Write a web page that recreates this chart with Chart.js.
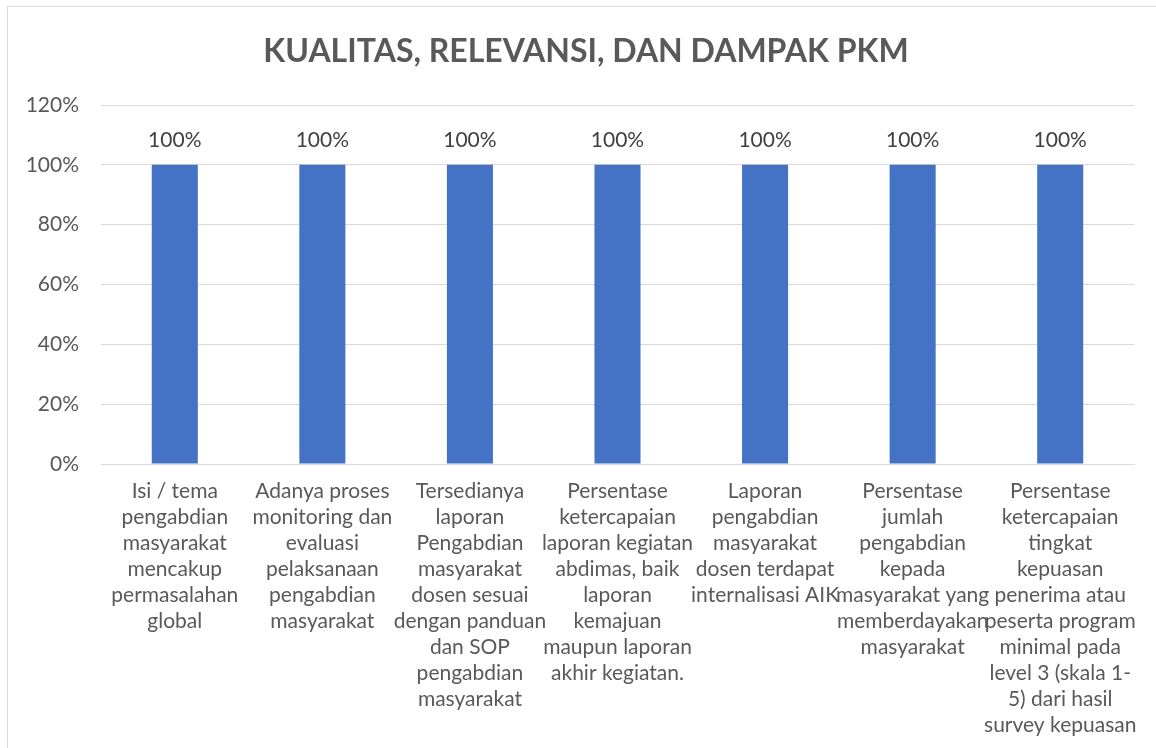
<!DOCTYPE html>
<html>
<head>
<meta charset="utf-8">
<script src="https://cdn.jsdelivr.net/npm/chart.js@4.4.1/dist/chart.umd.min.js"></script>
<style>
    html, body { margin: 0; padding: 0; background: #fff; overflow: hidden; }
    .wrap { position: relative; width: 1156px; height: 748px; }
    .frame {
        position: absolute; left: 7px; top: 6px; width: 1200px; height: 800px;
        border: 1px solid #d9d9d9; pointer-events: none;
    }
</style>
</head>
<body>
<div class="wrap">
    <canvas id="pkmChart"></canvas>
    <div class="frame"></div>
</div>
<script>
// Chart data
const chartTitle = 'KUALITAS, RELEVANSI, DAN DAMPAK PKM';

const categories = [
    ['Isi / tema', 'pengabdian', 'masyarakat', 'mencakup', 'permasalahan', 'global'],
    ['Adanya proses', 'monitoring dan', 'evaluasi', 'pelaksanaan', 'pengabdian', 'masyarakat'],
    ['Tersedianya', 'laporan', 'Pengabdian', 'masyarakat', 'dosen sesuai', 'dengan panduan', 'dan SOP', 'pengabdian', 'masyarakat'],
    ['Persentase', 'ketercapaian', 'laporan kegiatan', 'abdimas, baik', 'laporan', 'kemajuan', 'maupun laporan', 'akhir kegiatan.'],
    ['Laporan', 'pengabdian', 'masyarakat', 'dosen terdapat', 'internalisasi AIK'],
    ['Persentase', 'jumlah', 'pengabdian', 'kepada', 'masyarakat yang', 'memberdayakan', 'masyarakat'],
    ['Persentase', 'ketercapaian', 'tingkat', 'kepuasan', 'penerima atau', 'peserta program', 'minimal pada', 'level 3 (skala 1-', '5) dari hasil', 'survey kepuasan']
];

const values = [1, 1, 1, 1, 1, 1, 1];

const yMin = 0;
const yMax = 1.2;
const yStep = 0.2;

(function() {
    'use strict';

    const FONT = 'Lato, Carlito, Calibri, "Open Sans", sans-serif';

    function pct(v) {
        return Math.round(v * 100) + '%';
    }

    // title centred on the outer frame, not on the canvas
    const frameTitle = {
        id: 'frameTitle',
        afterDraw(chart) {
            const ctx = chart.ctx;
            ctx.save();
            ctx.font = 'bold 32px ' + FONT;
            ctx.fillStyle = '#595959';
            ctx.textAlign = 'center';
            ctx.textBaseline = 'middle';
            ctx.fillText(chartTitle, 586, 52);
            ctx.restore();
        }
    };

    // draws the value above each bar
    const valueLabels = {
        id: 'valueLabels',
        afterDatasetsDraw(chart) {
            const ctx = chart.ctx;
            ctx.save();
            ctx.font = '21px ' + FONT;
            ctx.fillStyle = '#404040';
            ctx.textAlign = 'center';
            ctx.textBaseline = 'middle';
            chart.getDatasetMeta(0).data.forEach((bar, i) => {
                ctx.fillText(pct(values[i]), bar.x, bar.y - 25);
            });
            ctx.restore();
        }
    };

    new Chart(document.getElementById('pkmChart'), {
        type: 'bar',
        data: {
            labels: categories,
            datasets: [{
                label: 'PKM',
                data: values,
                backgroundColor: '#4472c4',
                borderWidth: 0,
                categoryPercentage: 1,
                barPercentage: 0.312
            }]
        },
        options: {
            responsive: true,
            maintainAspectRatio: false,
            animation: false,
            layout: {
                padding: { left: 0, right: 22, top: 105, bottom: 0 }
            },
            plugins: {
                legend: { display: false },
                tooltip: { enabled: false },
                title: { display: false }
            },
            scales: {
                y: {
                    min: yMin,
                    max: yMax,
                    ticks: {
                        stepSize: yStep,
                        color: '#595959',
                        padding: 22,
                        font: { family: FONT, size: 21 },
                        callback: function(value) {
                            return pct(value);
                        }
                    },
                    grid: {
                        color: '#d9d9d9',
                        lineWidth: 1,
                        drawTicks: false
                    },
                    border: { display: false },
                    afterFit: function(scale) {
                        scale.width = 101;
                    }
                },
                x: {
                    ticks: {
                        color: '#595959',
                        padding: 14,
                        autoSkip: false,
                        maxRotation: 0,
                        minRotation: 0,
                        font: { family: FONT, size: 21, lineHeight: '26px' }
                    },
                    grid: { display: false, drawTicks: false },
                    border: { display: true, color: '#d9d9d9', width: 1 },
                    afterFit: function(scale) {
                        scale.height = 284;
                    }
                }
            }
        },
        plugins: [valueLabels, frameTitle]
    });
})();
</script>
</body>
</html>
